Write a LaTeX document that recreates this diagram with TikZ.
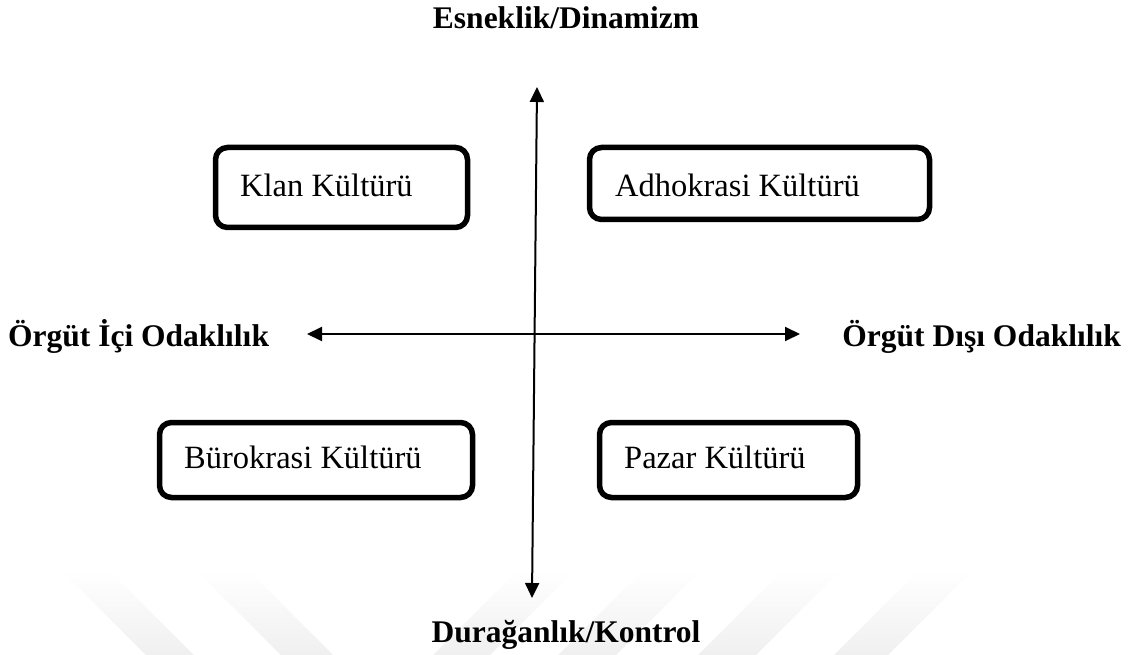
\documentclass[tikz,border=0pt]{standalone}
\usepackage{fontspec}
\setmainfont{Liberation Serif}
\usetikzlibrary{arrows.meta}
\tikzset{
  axislabel/.style={font=\bfseries\fontsize{31.5}{36}\selectfont, inner sep=0pt},
  boxlabel/.style={font=\fontsize{32.5}{38}\selectfont, inner sep=0pt, anchor=base west},
  culturebox/.style={draw=black, line width=5.5pt, rounded corners=12pt, inner sep=0pt, fill=white},
  axis/.style={line width=2pt, {Triangle[length=15pt,width=14pt]}-{Triangle[length=15pt,width=14pt]}},
  wm/.style={top color=white, bottom color=black!6, draw=none}
}
\begin{document}
\begin{tikzpicture}[x=1pt,y=-1pt]
\useasboundingbox (0,0) rectangle (1128,655);
% watermark stripes
\foreach \a/\b in {61/109,196/248}{
  \path[wm] (\a,570) -- (\b,570) -- (\b+85,655) -- (\a+85,655) -- cycle;
}
\foreach \a/\b in {518/575,643/701,783/841,919/973}{
  \path[wm] (\a,570) -- (\b,570) -- (\b-85,655) -- (\a-85,655) -- cycle;
}
% axes
\coordinate (vtop) at (537,87);
\coordinate (vbot) at (532,598);
\coordinate (hl) at (307,334);
\coordinate (hr) at (800,334);
\draw[axis] (vtop) -- (vbot);
\draw[axis] (hl) -- (hr);
% axis labels
\node[axislabel, anchor=base] (top) at (566,29) {Esneklik/Dinamizm};
\node[axislabel, anchor=base] (bottom) at (566,642) {Durağanlık/Kontrol};
\node[axislabel, anchor=base west] (left) at (8,346) {Örgüt İçi Odaklılık};
\node[axislabel, anchor=base east] (right) at (1121,346) {Örgüt Dışı Odaklılık};
% boxes
\node[culturebox, minimum width=252pt, minimum height=80pt] (klan) at (341.5,187.5) {};
\node[culturebox, minimum width=340pt, minimum height=72pt] (adho) at (759.5,183.5) {};
\node[culturebox, minimum width=313pt, minimum height=75pt] (buro) at (316,460) {};
\node[culturebox, minimum width=258pt, minimum height=75pt] (pazar) at (728.5,460) {};
\node[boxlabel] (klanT) at (240,197) {Klan Kültürü};
\node[boxlabel] (adhoT) at (615,197) {Adhokrasi Kültürü};
\node[boxlabel] (buroT) at (184,468) {Bürokrasi Kültürü};
\node[boxlabel] (pazarT) at (624,468) {Pazar Kültürü};
\end{tikzpicture}
\end{document}
